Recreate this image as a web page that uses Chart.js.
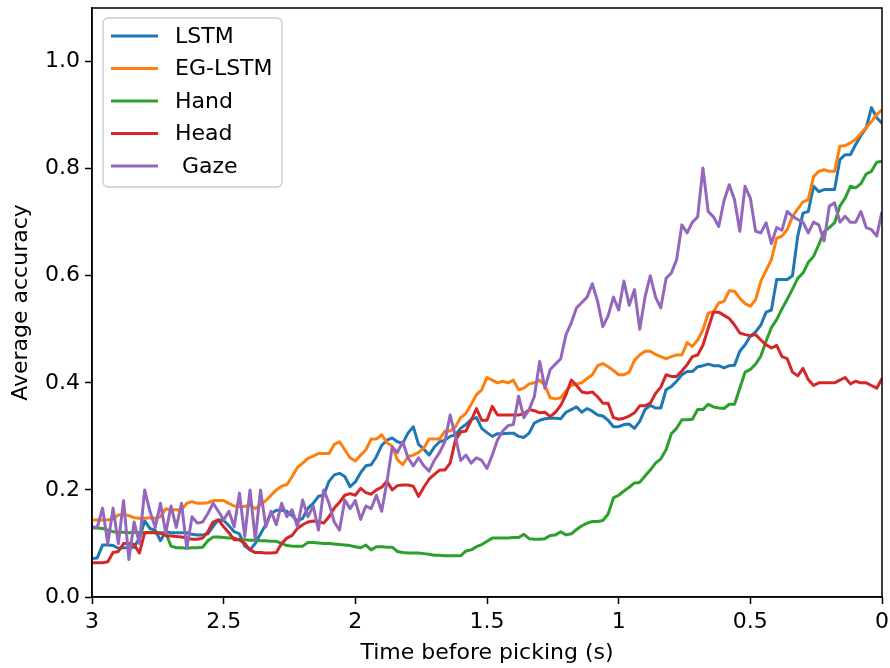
<!DOCTYPE html>
<html>
<head>
<meta charset="utf-8">
<script src="https://cdn.jsdelivr.net/npm/chart.js@4/dist/chart.umd.min.js"></script>
<style>
  html, body { margin: 0; padding: 0; background: #ffffff; }
  #wrap { width: 890px; height: 668px; }
</style>
</head>
<body>
<div id="wrap"><canvas id="c" width="890" height="668"></canvas></div>
<script>
// Time before picking (s)
const timeSec = [3, 2.98, 2.96, 2.94, 2.92, 2.9, 2.88, 2.86, 2.84, 2.82, 2.8, 2.78, 2.76, 2.74, 2.72, 2.7, 2.68, 2.66, 2.64, 2.62,
  2.6, 2.58, 2.56, 2.54, 2.52, 2.5, 2.48, 2.46, 2.44, 2.42, 2.4, 2.38, 2.36, 2.34, 2.32, 2.3, 2.28, 2.26, 2.24, 2.22,
  2.2, 2.18, 2.16, 2.14, 2.12, 2.1, 2.08, 2.06, 2.04, 2.02, 2, 1.98, 1.96, 1.94, 1.92, 1.9, 1.88, 1.86, 1.84, 1.82,
  1.8, 1.78, 1.76, 1.74, 1.72, 1.7, 1.68, 1.66, 1.64, 1.62, 1.6, 1.58, 1.56, 1.54, 1.52, 1.5, 1.48, 1.46, 1.44, 1.42,
  1.4, 1.38, 1.36, 1.34, 1.32, 1.3, 1.28, 1.26, 1.24, 1.22, 1.2, 1.18, 1.16, 1.14, 1.12, 1.1, 1.08, 1.06, 1.04, 1.02,
  1, 0.98, 0.96, 0.94, 0.92, 0.9, 0.88, 0.86, 0.84, 0.82, 0.8, 0.78, 0.76, 0.74, 0.72, 0.7, 0.68, 0.66, 0.64, 0.62,
  0.6, 0.58, 0.56, 0.54, 0.52, 0.5, 0.48, 0.46, 0.44, 0.42, 0.4, 0.38, 0.36, 0.34, 0.32, 0.3, 0.28, 0.26, 0.24, 0.22,
  0.2, 0.18, 0.16, 0.14, 0.12, 0.1, 0.08, 0.06, 0.04, 0.02, 0];

const seriesNames = ["LSTM", "EG-LSTM", "Hand", "Head", " Gaze"];

const lstmAcc = [
  0.072,0.073,0.097,0.097,0.096,0.091,0.092,0.092,0.093,0.110,
  0.142,0.128,0.125,0.105,0.122,0.120,0.120,0.120,0.120,0.117,
  0.116,0.116,0.118,0.132,0.144,0.143,0.133,0.122,0.118,0.095,
  0.088,0.100,0.118,0.135,0.156,0.162,0.162,0.160,0.152,0.142,
  0.147,0.166,0.175,0.188,0.190,0.216,0.228,0.231,0.225,0.206,
  0.215,0.232,0.245,0.247,0.262,0.283,0.293,0.297,0.290,0.287,
  0.306,0.318,0.285,0.276,0.265,0.280,0.290,0.293,0.300,0.303,
  0.315,0.322,0.332,0.335,0.315,0.307,0.300,0.305,0.305,0.306,
  0.306,0.300,0.298,0.306,0.325,0.330,0.333,0.334,0.334,0.333,
  0.345,0.350,0.355,0.345,0.352,0.347,0.340,0.338,0.330,0.318,
  0.318,0.322,0.323,0.315,0.328,0.350,0.358,0.353,0.353,0.387,
  0.393,0.403,0.415,0.421,0.421,0.430,0.432,0.435,0.432,0.432,
  0.428,0.432,0.433,0.459,0.471,0.487,0.495,0.508,0.532,0.536,
  0.593,0.593,0.593,0.600,0.674,0.717,0.720,0.767,0.757,0.761,
  0.761,0.761,0.817,0.826,0.826,0.845,0.862,0.876,0.914,0.895,
  0.885];

const egLstmAcc = [
  0.144,0.144,0.144,0.144,0.146,0.153,0.153,0.152,0.148,0.147,
  0.147,0.148,0.147,0.150,0.165,0.163,0.163,0.163,0.175,0.178,
  0.175,0.175,0.176,0.180,0.180,0.180,0.175,0.170,0.169,0.169,
  0.172,0.165,0.172,0.180,0.190,0.200,0.207,0.210,0.225,0.242,
  0.250,0.259,0.263,0.268,0.268,0.268,0.285,0.290,0.275,0.260,
  0.254,0.265,0.275,0.295,0.295,0.303,0.288,0.282,0.256,0.247,
  0.262,0.265,0.270,0.278,0.295,0.295,0.295,0.310,0.310,0.318,
  0.335,0.343,0.360,0.378,0.387,0.410,0.405,0.400,0.403,0.400,
  0.405,0.387,0.390,0.398,0.400,0.405,0.395,0.372,0.370,0.372,
  0.385,0.395,0.398,0.400,0.408,0.415,0.432,0.436,0.430,0.423,
  0.415,0.415,0.420,0.442,0.452,0.459,0.459,0.453,0.449,0.445,
  0.449,0.452,0.452,0.475,0.468,0.480,0.499,0.530,0.533,0.549,
  0.552,0.572,0.571,0.558,0.548,0.543,0.555,0.590,0.610,0.630,
  0.670,0.674,0.686,0.710,0.725,0.738,0.742,0.785,0.795,0.798,
  0.795,0.795,0.842,0.843,0.848,0.855,0.866,0.877,0.888,0.901,
  0.910];

const handAcc = [
  0.129,0.129,0.128,0.125,0.122,0.121,0.121,0.120,0.121,0.120,
  0.120,0.121,0.120,0.120,0.120,0.095,0.092,0.092,0.091,0.092,
  0.092,0.093,0.105,0.112,0.112,0.111,0.110,0.110,0.107,0.107,
  0.106,0.106,0.105,0.105,0.104,0.104,0.100,0.096,0.095,0.095,
  0.095,0.102,0.102,0.101,0.100,0.100,0.099,0.098,0.097,0.096,
  0.094,0.092,0.097,0.088,0.094,0.094,0.093,0.093,0.085,0.083,
  0.082,0.082,0.082,0.081,0.080,0.078,0.078,0.077,0.077,0.077,
  0.077,0.086,0.088,0.094,0.098,0.104,0.110,0.110,0.110,0.110,
  0.111,0.111,0.117,0.109,0.108,0.108,0.109,0.115,0.116,0.122,
  0.116,0.118,0.126,0.133,0.138,0.141,0.141,0.143,0.155,0.185,
  0.190,0.198,0.205,0.213,0.214,0.226,0.237,0.250,0.258,0.275,
  0.305,0.315,0.331,0.331,0.332,0.350,0.350,0.360,0.355,0.353,
  0.352,0.360,0.360,0.390,0.420,0.425,0.435,0.450,0.478,0.503,
  0.518,0.538,0.556,0.575,0.595,0.605,0.625,0.636,0.658,0.682,
  0.690,0.699,0.730,0.745,0.767,0.764,0.772,0.790,0.795,0.812,
  0.814];

const headAcc = [
  0.064,0.064,0.064,0.066,0.083,0.085,0.100,0.100,0.098,0.082,
  0.120,0.120,0.120,0.119,0.115,0.114,0.113,0.112,0.110,0.108,
  0.108,0.110,0.122,0.140,0.144,0.131,0.120,0.107,0.107,0.100,
  0.088,0.083,0.083,0.082,0.082,0.083,0.100,0.110,0.115,0.128,
  0.135,0.140,0.142,0.141,0.138,0.150,0.166,0.177,0.190,0.193,
  0.190,0.203,0.195,0.192,0.200,0.205,0.216,0.200,0.208,0.209,
  0.209,0.207,0.188,0.205,0.220,0.229,0.237,0.237,0.250,0.293,
  0.308,0.310,0.330,0.352,0.330,0.330,0.356,0.340,0.340,0.340,
  0.340,0.340,0.342,0.350,0.348,0.344,0.345,0.337,0.345,0.358,
  0.378,0.405,0.395,0.383,0.381,0.383,0.374,0.362,0.362,0.335,
  0.332,0.334,0.338,0.344,0.357,0.357,0.362,0.380,0.392,0.415,
  0.412,0.412,0.422,0.434,0.449,0.452,0.470,0.502,0.532,0.532,
  0.526,0.520,0.508,0.493,0.490,0.488,0.490,0.480,0.471,0.465,
  0.470,0.449,0.445,0.420,0.413,0.427,0.406,0.395,0.400,0.400,
  0.400,0.400,0.405,0.410,0.398,0.403,0.400,0.400,0.395,0.390,
  0.408];

const gazeAcc = [
  0.131,0.130,0.166,0.100,0.166,0.100,0.180,0.070,0.140,0.100,
  0.200,0.160,0.130,0.175,0.119,0.170,0.130,0.175,0.091,0.150,
  0.138,0.140,0.156,0.175,0.160,0.144,0.160,0.131,0.194,0.113,
  0.200,0.107,0.200,0.131,0.160,0.135,0.175,0.150,0.163,0.131,
  0.181,0.150,0.170,0.125,0.200,0.175,0.140,0.125,0.181,0.165,
  0.180,0.145,0.170,0.165,0.190,0.160,0.215,0.280,0.270,0.290,
  0.260,0.245,0.260,0.245,0.235,0.255,0.270,0.290,0.340,0.300,
  0.255,0.265,0.250,0.260,0.255,0.240,0.265,0.293,0.310,0.320,
  0.322,0.375,0.335,0.350,0.375,0.440,0.390,0.425,0.435,0.445,
  0.490,0.512,0.540,0.550,0.560,0.585,0.552,0.505,0.525,0.560,
  0.536,0.590,0.545,0.574,0.500,0.560,0.600,0.560,0.540,0.595,
  0.605,0.630,0.695,0.680,0.700,0.710,0.801,0.720,0.710,0.692,
  0.740,0.770,0.742,0.683,0.767,0.745,0.683,0.680,0.699,0.660,
  0.690,0.685,0.720,0.711,0.705,0.700,0.680,0.700,0.695,0.665,
  0.730,0.736,0.700,0.711,0.700,0.700,0.720,0.690,0.686,0.674,
  0.720];

const xTickStep = 0.5;
const yTickStep = 0.2;

const seriesValues = [lstmAcc, egLstmAcc, handAcc, headAcc, gazeAcc];
const seriesColors = ["#1f77b4", "#ff7f0e", "#2ca02c", "#d62728", "#9467bd"];

const FONT = "'DejaVu Sans', 'Liberation Sans', sans-serif";
const FS = 22;

const datasets = seriesValues.map((vals, k) => ({
  label: seriesNames[k],
  data: vals.map((v, i) => ({ x: timeSec[i], y: v })),
  borderColor: seriesColors[k],
  backgroundColor: seriesColors[k],
  borderWidth: 3,
  pointRadius: 0,
  tension: 0,
  fill: false,
  borderJoinStyle: 'round',
  order: seriesValues.length - 1 - k
}));

const framePlugin = {
  id: 'frameAndLegend',
  afterDatasetsDraw(chart) {
    const ctx = chart.ctx;
    const a = chart.chartArea;
    ctx.save();
    ctx.strokeStyle = '#000000';
    ctx.lineWidth = 1.5;
    ctx.strokeRect(a.left, a.top, a.right - a.left, a.bottom - a.top);

    const bx = a.left + 11, by = a.top + 10, bw = 179, bh = 169, r = 5;
    ctx.beginPath();
    ctx.moveTo(bx + r, by);
    ctx.lineTo(bx + bw - r, by);
    ctx.arcTo(bx + bw, by, bx + bw, by + r, r);
    ctx.lineTo(bx + bw, by + bh - r);
    ctx.arcTo(bx + bw, by + bh, bx + bw - r, by + bh, r);
    ctx.lineTo(bx + r, by + bh);
    ctx.arcTo(bx, by + bh, bx, by + bh - r, r);
    ctx.lineTo(bx, by + r);
    ctx.arcTo(bx, by, bx + r, by, r);
    ctx.closePath();
    ctx.fillStyle = 'rgba(255,255,255,0.8)';
    ctx.fill();
    ctx.strokeStyle = '#cccccc';
    ctx.lineWidth = 1.4;
    ctx.stroke();

    ctx.font = FS + 'px ' + FONT;
    ctx.textBaseline = 'middle';
    ctx.textAlign = 'left';
    chart.data.datasets.forEach((ds, i) => {
      const yy = by + 18 + i * 32.5;
      ctx.strokeStyle = ds.borderColor;
      ctx.lineWidth = 3;
      ctx.beginPath();
      ctx.moveTo(bx + 8, yy);
      ctx.lineTo(bx + 55, yy);
      ctx.stroke();
      ctx.fillStyle = '#000000';
      ctx.fillText(ds.label, bx + 72, yy + 1);
    });
    ctx.restore();
  }
};

new Chart(document.getElementById('c'), {
  type: 'line',
  data: { datasets },
  plugins: [framePlugin],
  options: {
    responsive: false,
    animation: false,
    devicePixelRatio: 1,
    layout: { padding: { top: 8, right: 8, left: 0, bottom: 0 } },
    plugins: {
      legend: { display: false },
      tooltip: { enabled: false }
    },
    scales: {
      x: {
        type: 'linear',
        reverse: true,
        min: 0,
        max: 3,
        afterFit(s) { s.height = 71; s.paddingLeft = 0; s.paddingRight = 0; },
        grid: { drawOnChartArea: false, drawTicks: true, tickLength: 7, tickWidth: 1.5, tickColor: '#000' },
        border: { display: true, color: '#000', width: 1.5 },
        ticks: {
          stepSize: xTickStep,
          color: '#000',
          padding: 5,
          font: { family: FONT, size: FS },
          maxRotation: 0,
          callback: (v) => String(Number(v))
        },
        title: {
          display: true,
          text: 'Time before picking (s)',
          color: '#000',
          font: { family: FONT, size: FS },
          padding: { top: 0, bottom: 2 }
        }
      },
      y: {
        type: 'linear',
        min: 0,
        max: 1.1,
        afterFit(s) { s.width = 92; s.paddingTop = 0; s.paddingBottom = 0; },
        grid: { drawOnChartArea: false, drawTicks: true, tickLength: 7, tickWidth: 1.5, tickColor: '#000' },
        border: { display: true, color: '#000', width: 1.5 },
        ticks: {
          stepSize: yTickStep,
          includeBounds: false,
          color: '#000',
          padding: 5,
          font: { family: FONT, size: FS },
          callback: (v) => Number(v).toFixed(1)
        },
        title: {
          display: true,
          text: 'Average accuracy',
          color: '#000',
          font: { family: FONT, size: FS },
          padding: { top: 8, bottom: 0 }
        }
      }
    }
  }
});
</script>
</body>
</html>
